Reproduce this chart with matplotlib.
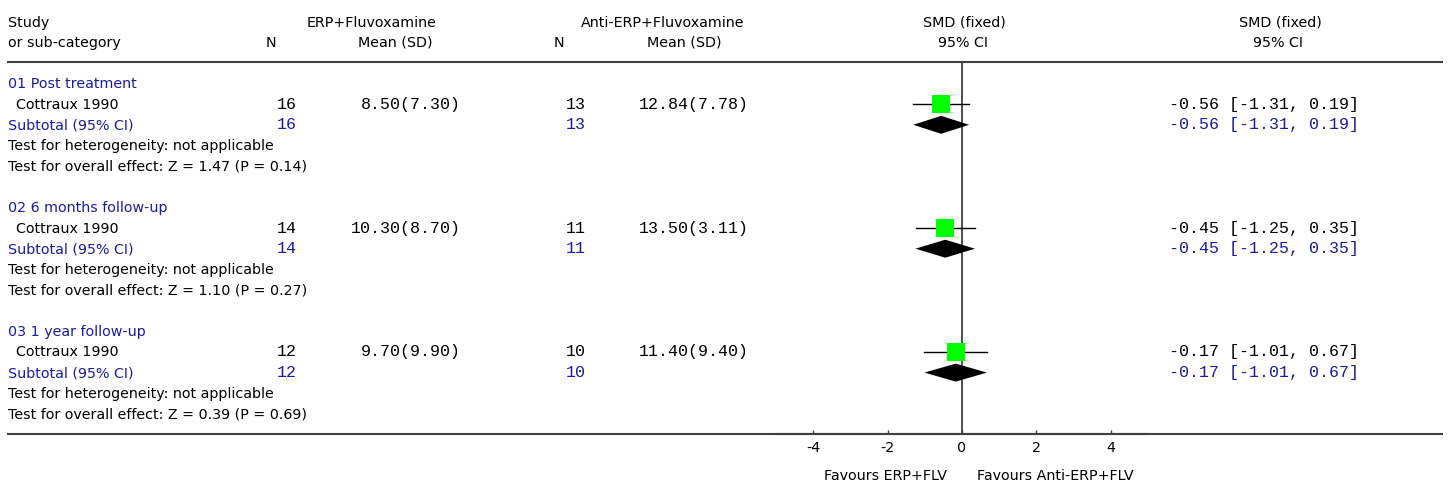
import numpy as np
import matplotlib
matplotlib.use('Agg')
import matplotlib.pyplot as plt

# data
groups = ['01 Post treatment', '02 6 months follow-up', '03 1 year follow-up']
study = 'Cottraux 1990'
n_erp = [16, 14, 12]
mean_erp = [8.50, 10.30, 9.70]
sd_erp = [7.30, 8.70, 9.90]
n_anti = [13, 11, 10]
mean_anti = [12.84, 13.50, 11.40]
sd_anti = [7.78, 3.11, 9.40]
smd = [-0.56, -0.45, -0.17]
ci_lo = [-1.31, -1.25, -1.01]
ci_hi = [0.19, 0.35, 0.67]
z_val = [1.47, 1.10, 0.39]
p_val = [0.14, 0.27, 0.69]
ticks = [-4, -2, 0, 2, 4]

blue = '#1c1c96'
dark = '#404040'
sans = 'DejaVu Sans'
mono = 'Liberation Mono'
fs = 10.3
fm = 12

W, H = 1448, 484
fig = plt.figure(figsize=(W / 100, H / 100), dpi=100)
ax = fig.add_axes([0, 0, 1, 1])
ax.set_xlim(0, W)
ax.set_ylim(H, 0)
ax.axis('off')

# forest panel: x in SMD units, y shares pixel rows with the text panel
fx0, fx1 = 776, 1148
fa = fig.add_axes([fx0 / W, 0, (fx1 - fx0) / W, 1])
fa.set_xlim(-5, 5)
fa.set_ylim(H, 0)
fa.patch.set_alpha(0)
for s in ['top', 'left', 'right']:
    fa.spines[s].set_visible(False)
fa.spines['bottom'].set_position(('data', 434))
fa.spines['bottom'].set_color(dark)
fa.spines['bottom'].set_linewidth(1.5)
fa.set_yticks([])
fa.set_xticks(ticks)
fa.set_xticklabels([str(t) for t in ticks], fontfamily=sans, fontsize=fs)
fa.tick_params(axis='x', direction='in', length=3, width=1, color=dark, pad=5)

# header
ax.text(8, 27, 'Study', fontfamily=sans, fontsize=fs)
ax.text(8, 47, 'or sub-category', fontfamily=sans, fontsize=fs)
ax.text(271, 47, 'N', fontfamily=sans, fontsize=fs, ha='center')
ax.text(436, 27, 'ERP+Fluvoxamine', fontfamily=sans, fontsize=fs, ha='right')
ax.text(433, 47, 'Mean (SD)', fontfamily=sans, fontsize=fs, ha='right')
ax.text(559, 47, 'N', fontfamily=sans, fontsize=fs, ha='center')
ax.text(663, 27, 'Anti-ERP+Fluvoxamine', fontfamily=sans, fontsize=fs, ha='center')
ax.text(684, 47, 'Mean (SD)', fontfamily=sans, fontsize=fs, ha='center')
ax.text(964, 27, 'SMD (fixed)', fontfamily=sans, fontsize=fs, ha='center')
ax.text(963, 47, '95% CI', fontfamily=sans, fontsize=fs, ha='center')
ax.text(1280, 27, 'SMD (fixed)', fontfamily=sans, fontsize=fs, ha='center')
ax.text(1278, 47, '95% CI', fontfamily=sans, fontsize=fs, ha='center')

ax.plot([7, 1443], [62, 62], color=dark, lw=1.5, solid_capstyle='butt')
ax.plot([7, 1443], [434, 434], color=dark, lw=1.5, solid_capstyle='butt')

step = 20.65
for g in range(len(groups)):
    b0 = 88 + step * 6 * g  # baseline of group title
    b1, b2, b3, b4 = [b0 + step * k for k in range(1, 5)]
    ax.text(8, b0, groups[g], fontfamily=sans, fontsize=fs, color=blue)
    ax.text(16, b1, study, fontfamily=sans, fontsize=fs)
    ax.text(297, b1, str(n_erp[g]), fontfamily=mono, fontsize=fm, ha='right')
    ax.text(461, b1, f'{mean_erp[g]:.2f}({sd_erp[g]:.2f})', fontfamily=mono, fontsize=fm, ha='right')
    ax.text(586, b1, str(n_anti[g]), fontfamily=mono, fontsize=fm, ha='right')
    ax.text(749, b1, f'{mean_anti[g]:.2f}({sd_anti[g]:.2f})', fontfamily=mono, fontsize=fm, ha='right')
    ci = f'{smd[g]:.2f} [{ci_lo[g]:.2f}, {ci_hi[g]:.2f}]'
    ax.text(1359, b1, ci, fontfamily=mono, fontsize=fm, ha='right')

    ax.text(8, b2, 'Subtotal (95% CI)', fontfamily=sans, fontsize=fs, color=blue)
    ax.text(297, b2, str(n_erp[g]), fontfamily=mono, fontsize=fm, ha='right', color=blue)
    ax.text(586, b2, str(n_anti[g]), fontfamily=mono, fontsize=fm, ha='right', color=blue)
    ax.text(1359, b2, ci, fontfamily=mono, fontsize=fm, ha='right', color=blue)

    ax.text(8, b3, 'Test for heterogeneity: not applicable', fontfamily=sans, fontsize=fs)
    ax.text(8, b4, f'Test for overall effect: Z = {z_val[g]:.2f} (P = {p_val[g]:.2f})',
            fontfamily=sans, fontsize=fs)

    # study estimate and CI
    y1 = b1 - 4.5
    fa.plot([ci_lo[g], ci_hi[g]], [y1, y1], color='black', lw=1, zorder=3)
    fa.plot([smd[g]], [y1], marker='s', markersize=13.5, color='#00ff00',
            markeredgewidth=0, zorder=4)
    # subtotal diamond
    y2 = b2 - 4.5
    fa.fill([ci_lo[g], smd[g], ci_hi[g], smd[g]], [y2, y2 - 9, y2, y2 + 9],
            color='black', lw=0, zorder=4)

fa.plot([0, 0], [62, 434], color=dark, lw=1.3, zorder=2)

ax.text(947, 480, 'Favours ERP+FLV', fontfamily=sans, fontsize=fs, ha='right')
ax.text(977, 480, 'Favours Anti-ERP+FLV', fontfamily=sans, fontsize=fs, ha='left')

fig.savefig('out.png', dpi=100)
